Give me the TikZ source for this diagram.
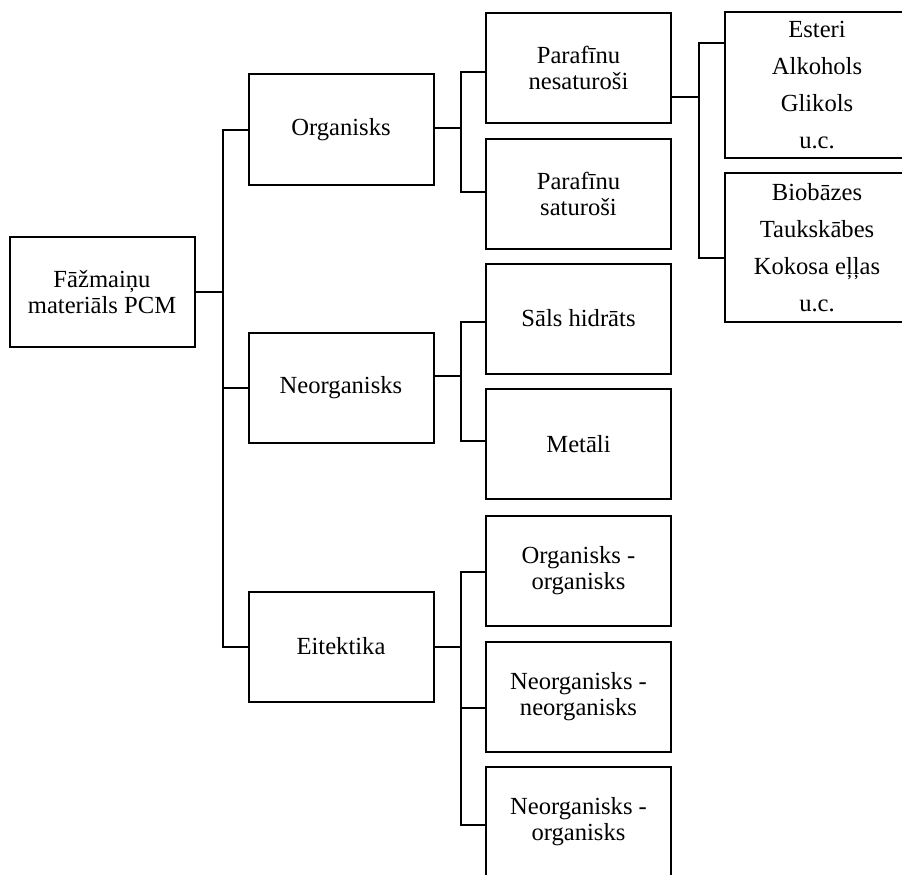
\documentclass[tikz,border=0pt]{standalone}
\usepackage{fontspec}
\setmainfont{Liberation Serif}
\usetikzlibrary{calc}

\tikzset{
    box/.style={draw, line width=2pt, minimum width=185pt, minimum height=110pt,
        inner sep=0pt, align=center, font=\fontsize{24.6}{26}\selectfont},
    listbox/.style={box, font=\fontsize{24.6}{37}\selectfont},
    link/.style={line width=2pt}
}

\begin{document}
\begin{tikzpicture}[x=1pt, y=-1pt]
    \useasboundingbox (0,0) rectangle (902,875);
    \clip (0,0) rectangle (902,875);

    % Root
    \node[box] (pcm) at (102, 292) {Fāžmaiņu\\materiāls PCM};

    % Main groups
    \node[box] (org) at (341, 129.5) {Organisks};
    \node[box] (neorg) at (341, 388) {Neorganisks};
    \node[box] (eit) at (341, 646.5) {Eitektika};

    % Organic
    \node[box] (parnes) at (578.5, 68) {Parafīnu\\nesaturoši};
    \node[box] (parsat) at (578.5, 193.5) {Parafīnu\\saturoši};
    \node[listbox, minimum height=146pt] (esteri) at (817, 85) {Esteri\\Alkohols\\Glikols\\u.c.};
    \node[listbox, minimum height=149pt] (bio) at (817, 247.5) {Biobāzes\\Taukskābes\\Kokosa eļļas\\u.c.};

    % Inorganic
    \node[box] (sals) at (578.5, 318.5) {Sāls hidrāts};
    \node[box] (metali) at (578.5, 444) {Metāli};

    % Eutectic
    \node[box] (oo) at (578.5, 570.5) {Organisks -\\organisks};
    \node[box] (nn) at (578.5, 696.5) {Neorganisks -\\neorganisks};
    \node[box] (no) at (578.5, 822) {Neorganisks -\\organisks};

    % Connectors
    \draw[link] (pcm.east) -- ++(27,0) coordinate (t1);
    \draw[link] (org.west) -| (t1) |- (eit.west);
    \draw[link] (neorg.west) -- (neorg.west -| t1);

    \draw[link] ([yshift=2pt]org.east) -- ++(26,0) coordinate (t2);
    \draw[link] ([yshift=-4pt]parnes.west) -| (t2) |- ([yshift=2pt]parsat.west);

    \draw[link] ([yshift=-29pt]parnes.east) -- ++(27,0) coordinate (t3);
    \draw[link] ([yshift=42pt]esteri.west) -| (t3) |- ([yshift=-10.5pt]bio.west);

    \draw[link] ([yshift=12pt]neorg.east) -- ++(26,0) coordinate (t4);
    \draw[link] ([yshift=-3.5pt]sals.west) -| (t4) |- ([yshift=3pt]metali.west);

    \draw[link] (eit.east) -- ++(26,0) coordinate (t5);
    \draw[link] ([yshift=-1.5pt]oo.west) -| (t5) |- ([yshift=-3pt]no.west);
    \draw[link] ([yshift=-11.5pt]nn.west) -- ([yshift=-11.5pt]nn.west -| t5);
\end{tikzpicture}
\end{document}
